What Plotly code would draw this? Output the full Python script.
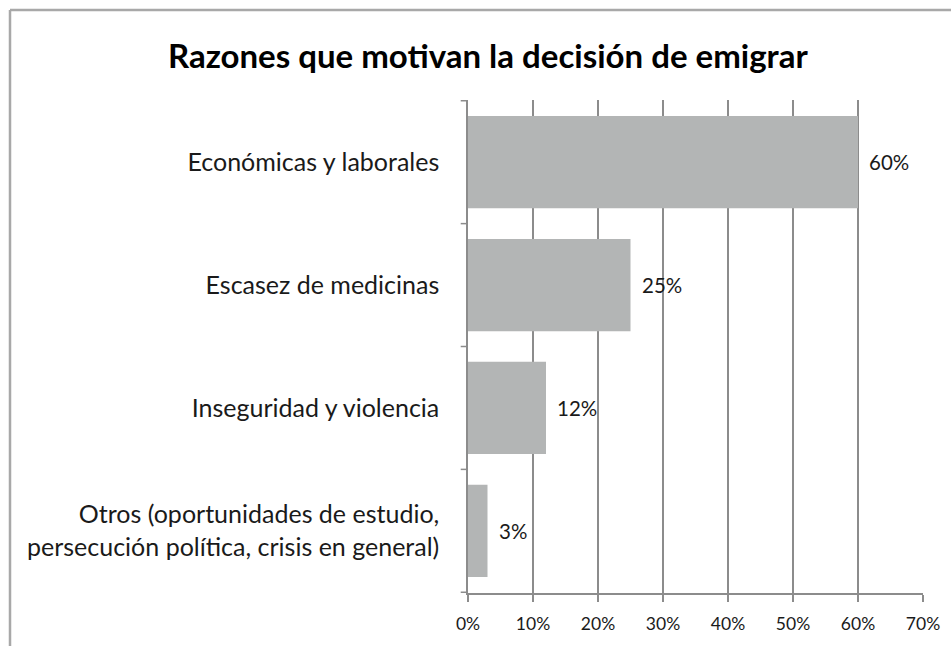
import plotly.graph_objects as go

# Reasons for emigrating, share of respondents
categorias = [
    "Económicas y laborales",
    "Escasez de medicinas",
    "Inseguridad y violencia",
    "Otros (oportunidades de estudio,<br>persecución política, crisis en general)",
]
porcentajes = [60, 25, 12, 3]
ticks_x = [0, 10, 20, 30, 40, 50, 60, 70]
etiquetas_x = [f"{v}%" for v in ticks_x]

FONT = "Lato"
TEXT = "#1a1a1a"
GRID = "#8c8c8c"

fig = go.Figure(
    go.Bar(
        x=porcentajes,
        y=categorias,
        orientation="h",
        marker=dict(color="#b3b5b5", line=dict(width=0)),
        width=0.75,
        hoverinfo="x+y",
    )
)

# Value labels to the right of each bar
for cat, v in zip(categorias, porcentajes):
    fig.add_annotation(
        x=v, y=cat, xref="x", yref="y",
        text=f"{v}%", showarrow=False,
        xanchor="left", xshift=9,
        font=dict(family=FONT, size=20.5, color=TEXT),
    )

fig.update_layout(
    width=951,
    height=646,
    margin=dict(l=468, r=28, t=100, b=53),
    paper_bgcolor="white",
    plot_bgcolor="white",
    showlegend=False,
    title=dict(
        text="<b>Razones que motivan la decisión de emigrar</b>",
        font=dict(family=FONT, size=33, color="#000000"),
        x=0.513,
        xanchor="center",
        y=0.913,
        yanchor="middle",
    ),
)

fig.update_xaxes(
    range=[0, 70],
    tickvals=ticks_x,
    ticktext=etiquetas_x,
    showgrid=True,
    gridcolor=GRID,
    gridwidth=1.5,
    zeroline=False,
    showline=True,
    linecolor=GRID,
    linewidth=1.5,
    ticks="outside",
    ticklen=7,
    tickcolor=GRID,
    tickwidth=1.5,
    tickfont=dict(family=FONT, size=17.5, color=TEXT),
    ticklabelstandoff=7,
    fixedrange=True,
)

fig.update_yaxes(
    autorange="reversed",
    showline=True,
    linecolor=GRID,
    linewidth=1.5,
    ticks="",
    tickfont=dict(family=FONT, size=25, color=TEXT),
    ticklabelstandoff=22,
    showgrid=False,
    fixedrange=True,
)

# Category separators on the left axis (ticks between bands)
for i in range(len(categorias) + 1):
    fig.add_shape(
        type="line", xref="paper", yref="y",
        x0=-0.016, x1=0, y0=i - 0.5, y1=i - 0.5,
        line=dict(color=GRID, width=1.5),
    )

# Outer frame of the chart
fig.add_shape(
    type="line", xref="paper", yref="paper",
    x0=-458 / 455, x1=483 / 455, y0=1 + 90 / 493, y1=1 + 90 / 493,
    line=dict(color="#a8a8a8", width=2.5),
)
fig.add_shape(
    type="line", xref="paper", yref="paper",
    x0=-458 / 455, x1=-458 / 455, y0=1 + 90 / 493, y1=-60 / 493,
    line=dict(color="#a8a8a8", width=2.5),
)

fig.write_html("out.html")
